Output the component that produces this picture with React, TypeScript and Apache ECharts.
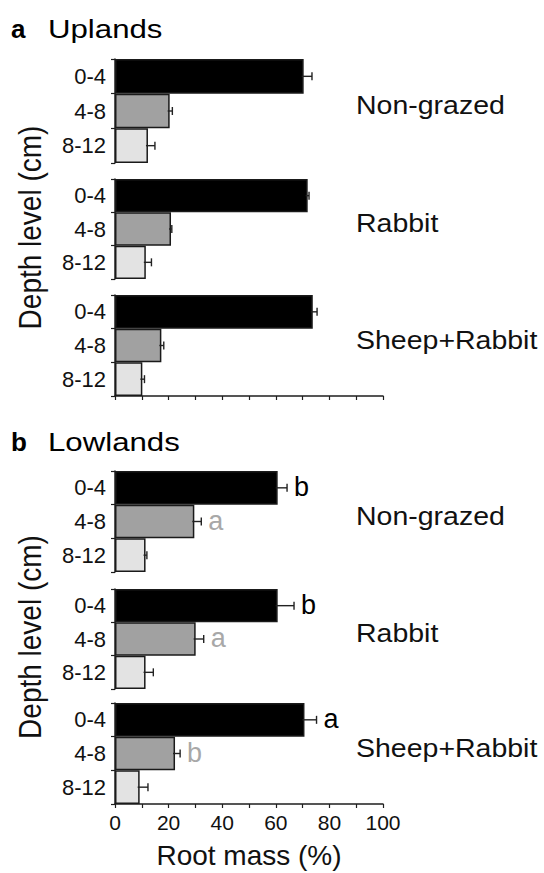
import React, { useEffect, useRef } from "react";
import * as echarts from "echarts";

const depths = ["0-4", "4-8", "8-12"];
const treatments = ["Non-grazed", "Rabbit", "Sheep+Rabbit"];
const panelTitles = ["Uplands", "Lowlands"];
const panelLetters = ["a", "b"];

// mean root mass (%) per treatment, per depth
const uplandsMeans = [
  [70.4, 20.4, 12.3],
  [71.9, 20.9, 11.5],
  [73.8, 17.3, 10.2],
];
const uplandsErr = [
  [3.1, 1.0, 2.6],
  [0.5, 0.3, 2.1],
  [1.6, 0.9, 0.8],
];
const lowlandsMeans = [
  [60.7, 29.6, 11.4],
  [60.7, 30.1, 11.4],
  [70.7, 22.4, 9.2],
];
const lowlandsErr = [
  [3.5, 2.6, 0.5],
  [6.1, 3.0, 2.9],
  [4.5, 1.9, 3.1],
];
const uplandsLetters = [
  ["", "", ""],
  ["", "", ""],
  ["", "", ""],
];
const lowlandsLetters = [
  ["b", "a", ""],
  ["b", "a", ""],
  ["a", "b", ""],
];

const xTitle = "Root mass (%)";
const yTitle = "Depth level (cm)";

const FONT = '"Liberation Sans", Arial, Helvetica, sans-serif';
const depthColors = ["#000000", "#a1a1a1", "#e3e3e3"];
const letterColors = ["#000000", "#a8a8a8", "#a8a8a8"];
const AX = "#1e1e1e";

const GRID_LEFT = 115;
const GRID_W = 268;
const subPanels = [
  [
    [59, 163],
    [179, 279],
    [295, 396],
  ],
  [
    [471, 572],
    [589, 689],
    [703, 804],
  ],
];

export default function App() {
  const ref = useRef<HTMLDivElement>(null);

  useEffect(() => {
    if (!ref.current) return;
    const chart = echarts.init(ref.current, null, { renderer: "svg" });

    const means = [uplandsMeans, lowlandsMeans];
    const errs = [uplandsErr, lowlandsErr];
    const letters = [uplandsLetters, lowlandsLetters];

    const grid: any[] = [];
    const xAxis: any[] = [];
    const yAxis: any[] = [];
    const series: any[] = [];

    for (let p = 0; p < 2; p++) {
      for (let t = 0; t < 3; t++) {
        const gi = p * 3 + t;
        const [y0, y1] = subPanels[p][t];
        const isLast = t === 2;
        grid.push({ left: GRID_LEFT, width: GRID_W, top: y0, height: y1 - y0 });
        xAxis.push({
          gridIndex: gi,
          type: "value",
          min: 0,
          max: 100,
          interval: 20,
          show: isLast,
          axisLine: { show: true, lineStyle: { color: AX, width: 1.5 } },
          axisTick: { show: true, length: 4, lineStyle: { color: AX, width: 1.2 } },
          minorTick: { show: true, splitNumber: 2, length: 4, lineStyle: { color: AX, width: 1.2 } },
          splitLine: { show: false },
          minorSplitLine: { show: false },
          axisLabel: {
            show: p === 1,
            fontSize: 21,
            fontFamily: FONT,
            color: "#111",
            margin: 8,
          },
          name: p === 1 ? xTitle : "",
          nameLocation: "middle",
          nameGap: 37,
          nameTextStyle: { fontSize: 28, fontFamily: FONT, color: "#111" },
        });
        yAxis.push({
          gridIndex: gi,
          type: "category",
          data: depths,
          inverse: true,
          axisLine: { show: true, lineStyle: { color: AX, width: 1.5 } },
          axisTick: { show: true, length: 4, lineStyle: { color: AX, width: 1.2 } },
          axisLabel: { fontSize: 22, fontFamily: FONT, color: "#111", margin: 9 },
          splitLine: { show: false },
        });
        series.push({
          type: "bar",
          xAxisIndex: gi,
          yAxisIndex: gi,
          barCategoryGap: "0%",
          data: means[p][t].map((v, i) => ({
            value: v,
            itemStyle: { color: depthColors[i], borderColor: "#1a1a1a", borderWidth: 1.5 },
          })),
        });
        const lt = letters[p][t];
        series.push({
          type: "custom",
          xAxisIndex: gi,
          yAxisIndex: gi,
          z: 5,
          encode: { x: 0, y: 1 },
          data: means[p][t].map((v, i) => [v, i, errs[p][t][i]]),
          renderItem: (params: any, api: any) => {
            const v = api.value(0);
            const c = api.value(1);
            const e = api.value(2);
            const lo = api.coord([v, c]);
            const hi = api.coord([v + e, c]);
            const cap = 4;
            const ls = { stroke: "#222", lineWidth: 1.4 };
            const children: any[] = [
              { type: "line", shape: { x1: lo[0] - 2, y1: lo[1], x2: hi[0], y2: hi[1] }, style: ls },
              { type: "line", shape: { x1: hi[0], y1: hi[1] - cap, x2: hi[0], y2: hi[1] + cap }, style: ls },
            ];
            const txt = lt[params.dataIndex];
            if (txt) {
              children.push({
                type: "text",
                style: {
                  text: txt,
                  x: hi[0] + 7,
                  y: hi[1] - 1,
                  fill: letterColors[params.dataIndex],
                  fontSize: 27,
                  fontFamily: FONT,
                  align: "left",
                  verticalAlign: "middle",
                },
              });
            }
            return { type: "group", children };
          },
        });
      }
    }

    const graphic: any[] = [];
    const titleY = [29, 442];
    const yTitleY = [227.5, 637];
    for (let p = 0; p < 2; p++) {
      graphic.push({
        type: "text",
        x: 11,
        y: titleY[p],
        style: {
          text: panelLetters[p],
          fontSize: 26,
          fontWeight: "bold",
          fontFamily: FONT,
          fill: "#000",
          verticalAlign: "middle",
          align: "left",
        },
      });
      graphic.push({
        type: "text",
        x: 48,
        y: titleY[p],
        scaleX: 1.2,
        style: {
          text: panelTitles[p],
          fontSize: 26,
          fontFamily: FONT,
          fill: "#000",
          verticalAlign: "middle",
          align: "left",
        },
      });
      graphic.push({
        type: "text",
        x: 30,
        y: yTitleY[p],
        rotation: Math.PI / 2,
        scaleY: 1.1,
        style: {
          text: yTitle,
          fontSize: 28,
          fontFamily: FONT,
          fill: "#111",
          verticalAlign: "middle",
          align: "center",
        },
      });
      for (let t = 0; t < 3; t++) {
        const [y0, y1] = subPanels[p][t];
        graphic.push({
          type: "text",
          x: 356,
          y: (y0 + y1) / 2 - 5,
          scaleX: 1.14,
          style: {
            text: treatments[t],
            fontSize: 25,
            fontFamily: FONT,
            fill: "#111",
            verticalAlign: "middle",
            align: "left",
          },
        });
      }
    }

    chart.setOption({
      animation: false,
      backgroundColor: "#ffffff",
      grid,
      xAxis,
      yAxis,
      series,
      graphic,
    });

    return () => chart.dispose();
  }, []);

  return (
    <div
      ref={ref}
      style={{ position: "fixed", left: 0, top: 0, width: 544, height: 873, background: "#fff" }}
    />
  );
}
